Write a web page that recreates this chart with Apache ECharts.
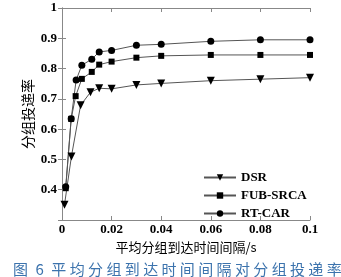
<!DOCTYPE html>
<html><head><meta charset="utf-8">
<script src="https://cdn.jsdelivr.net/npm/echarts@6/dist/echarts.min.js"></script>
<style>html,body{margin:0;padding:0;background:#fff}#c{width:341px;height:277px}</style>
</head><body><div id="c"></div>
<script>
const seriesNames = ['DSR', 'FUB-SRCA', 'RT-CAR'];
const dsrX = [0.001, 0.0038, 0.0075, 0.0115, 0.015, 0.02, 0.03, 0.04, 0.06, 0.08, 0.1];
const dsrY = [0.35, 0.51, 0.679, 0.722, 0.735, 0.733, 0.746, 0.751, 0.76, 0.765, 0.77];
const fubX = [0.0015, 0.0037, 0.0055, 0.008, 0.012, 0.015, 0.02, 0.03, 0.04, 0.06, 0.08, 0.1];
const fubY = [0.405, 0.634, 0.709, 0.766, 0.789, 0.813, 0.823, 0.836, 0.842, 0.845, 0.845, 0.845];
const rtX = [0.0015, 0.0037, 0.0057, 0.008, 0.012, 0.015, 0.02, 0.03, 0.04, 0.06, 0.08, 0.1];
const rtY = [0.41, 0.634, 0.762, 0.811, 0.831, 0.855, 0.86, 0.877, 0.88, 0.89, 0.895, 0.895];
const xTicks = ['0', '0.02', '0.04', '0.06', '0.08', '0.1'];
const yTicks = ['0.4', '0.5', '0.6', '0.7', '0.8', '0.9', '1'];
const xName = '平均分组到达时间间隔/s';
const yName = '分组投递率';
const caption = '图\u20026\u2002平 均 分 组 到 达 时 间 间 隔 对 分 组 投 递 率';

const zip = (xs, ys) => xs.map((x, i) => [x, ys[i]]);
const num = {fontFamily: 'Liberation Serif', fontWeight: 'bold', fontSize: 13, color: '#000'};
const axisLine = {show: true, lineStyle: {color: '#888', width: 1}};
const tick = {show: true, inside: true, length: 4, lineStyle: {color: '#888'}};
const fmtX = v => { const s = String(+v.toFixed(3)); return xTicks.includes(s) ? s : ''; };
const fmtY = v => { const s = String(+v.toFixed(2)); return yTicks.includes(s) ? s : ''; };

const chart = echarts.init(document.getElementById('c'), null, {renderer: 'canvas'});
const mk = (name, data, symbol, size, rot) => ({
  name, type: 'line', data, symbol, symbolSize: size, symbolRotate: rot || 0,
  lineStyle: {color: '#555', width: 1}, itemStyle: {color: '#000'},
  emphasis: {disabled: true}, animation: false
});
chart.setOption({
  animation: false,
  grid: {left: 62, right: 31, top: 8, bottom: 57},
  xAxis: [{
    type: 'value', min: 0, max: 0.1, interval: 0.02,
    axisLine, axisTick: tick, splitLine: {show: false},
    axisLabel: Object.assign({margin: 3, formatter: fmtX}, num),
    name: xName, nameLocation: 'middle', nameGap: 15,
    nameTextStyle: {fontFamily: 'Noto Sans CJK SC', fontSize: 13, color: '#000'}
  }, {
    type: 'value', min: 0, max: 0.1, interval: 0.02, position: 'top',
    axisLine, axisTick: tick, axisLabel: {show: false}, splitLine: {show: false}
  }],
  yAxis: [{
    type: 'value', min: 0.3, max: 1, interval: 0.1,
    axisLine, axisTick: tick, splitLine: {show: false},
    axisLabel: Object.assign({margin: 5, formatter: fmtY}, num),
    name: yName, nameLocation: 'middle', nameGap: 27, nameRotate: 90, nameMoveOverlap: false,
    nameTextStyle: {fontFamily: 'Noto Sans CJK SC', fontSize: 14, color: '#000'}
  }, {
    type: 'value', min: 0.3, max: 1, interval: 0.1, position: 'right',
    axisLine, axisTick: tick, axisLabel: {show: false}, splitLine: {show: false}
  }],
  legend: {
    orient: 'vertical', left: 198, top: 166, itemWidth: 32, itemHeight: 8, itemGap: 5,
    textStyle: {fontFamily: 'Liberation Serif', fontWeight: 'bold', fontSize: 13, color: '#000'},
    data: seriesNames
  },
  title: {
    text: caption, left: 8, top: 257,
    textStyle: {fontFamily: 'Noto Sans CJK SC', fontWeight: 'normal', fontSize: 15, color: '#3c73ad'}
  },
  series: [
    mk(seriesNames[0], zip(dsrX, dsrY), 'triangle', 8, 180),
    mk(seriesNames[1], zip(fubX, fubY), 'rect', 6),
    mk(seriesNames[2], zip(rtX, rtY), 'circle', 7)
  ]
});
</script></body></html>
